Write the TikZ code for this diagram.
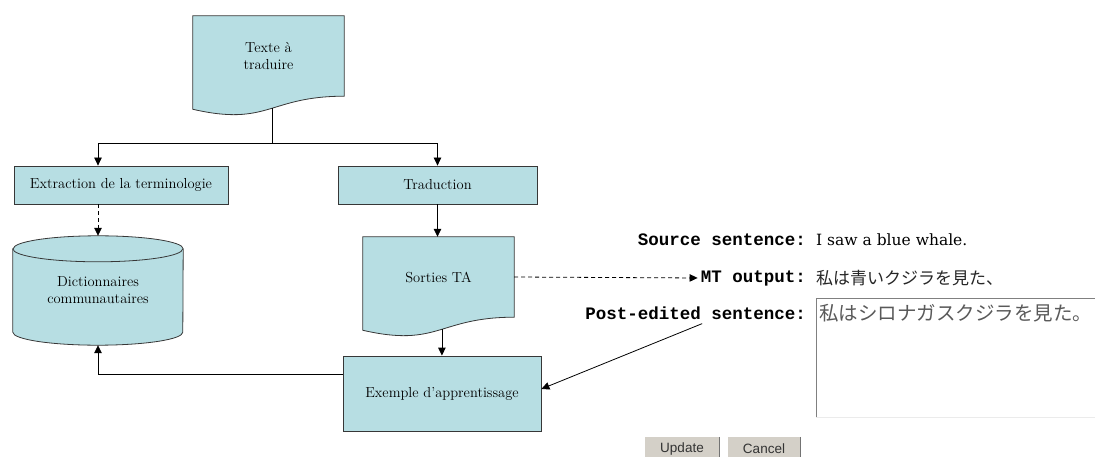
\documentclass[tikz,border=0pt]{standalone}
\usepackage{fontspec}
\newfontfamily\jpfont{Noto Sans CJK JP}
\newfontfamily\labelfont{Liberation Mono}
\newfontfamily\valuefont{DejaVu Serif}
\newfontfamily\buttonfont{Liberation Sans}
\usetikzlibrary{arrows.meta,calc,backgrounds}
\definecolor{flowfill}{RGB}{183,222,227}
\definecolor{edgegray}{RGB}{55,55,55}
\definecolor{btngray}{RGB}{212,208,200}
\newcommand{\flowfont}{\fontsize{14.5}{17}\selectfont}
% document shape: rectangle with a wavy bottom edge
\newcommand{\docoutline}[1]{%
  \draw[outline, fill=flowfill] (#1.north west) -- (#1.north east) -- (#1.south east)
    .. controls (#1.south) and ($(#1.north)!1.38!(#1.south)$) .. ($(#1.north west)!1.1625!(#1.south west)$)
    coordinate[pos=0.47] (#1-wave) -- cycle;}
% database shape: cylinder
\newcommand{\dboutline}[1]{%
  \draw[outline, fill=flowfill] ($(#1.north west)+(0,-13)$) -- ($(#1.south west)+(0,13)$)
    arc[start angle=180, end angle=360, x radius=85pt, y radius=13pt]
    -- ($(#1.north east)+(0,-13)$)
    arc[start angle=0, end angle=180, x radius=85pt, y radius=13pt] -- cycle;
  \draw[outline] ($(#1.north west)+(0,-13)$) arc[start angle=180, end angle=360, x radius=85pt, y radius=13pt];}
\tikzset{
  outline/.style={draw=edgegray, line width=0.8pt},
  flowbox/.style={outline, fill=flowfill, inner sep=0pt, font=\flowfont, align=center},
  doc/.style={inner sep=0pt, minimum width=151, minimum height=80, font=\flowfont, align=center},
  link/.style={line width=0.8pt, -{Triangle[length=8pt,width=7.5pt]}},
  dashlink/.style={link, dash pattern=on 4pt off 3pt},
  lbl/.style={anchor=east, inner sep=0pt, font=\labelfont\bfseries\fontsize{17.5}{20}\selectfont},
  val/.style={anchor=west, inner sep=0pt, font=\valuefont\fontsize{15.5}{20}\selectfont},
  jp/.style={anchor=west, inner sep=0pt, font=\jpfont\fontsize{17}{20}\selectfont, text=black!85},
  button/.style={fill=btngray, inner sep=0pt, minimum height=24, text=black!80,
    font=\buttonfont\fontsize{13.5}{15}\selectfont}
}
\begin{document}
\begin{tikzpicture}[x=1pt, y=1pt]
\useasboundingbox (0,0) rectangle (1095,-457);

\node[doc] (texte) at (268.5,-56) {\baselineskip=19pt Texte à\\traduire};
\node[flowbox, minimum width=214, minimum height=38] (extr) at (121,-185) {Extraction de la terminologie};
\node[flowbox, minimum width=199, minimum height=38] (trad) at (437.5,-185) {Traduction};
\node[inner sep=0pt, minimum width=170, minimum height=109, font=\flowfont, align=center] (dict) at (98,-290.5)
  {\baselineskip=15pt Dictionnaires\\communautaires};
\node[doc] (sorties) at (438.5,-277) {Sorties TA};
\node[flowbox, minimum width=198, minimum height=75] (exemple) at (442,-393.5) {Exemple d’apprentissage};

\begin{scope}[on background layer]
\docoutline{texte}
\docoutline{sorties}
\dboutline{dict}
\end{scope}

\node[lbl] (srclbl) at (806,-240) {Source sentence:};
\node[val] (srcval) at (816,-240) {I saw a blue whale.};
\node[lbl] (mtlbl) at (806,-278) {MT output:};
\node[jp] (mtval) at (816,-278) {私は青いクジラを見た、};
\node[lbl] (postlbl) at (806,-313) {Post-edited sentence:};
\node[anchor=north west, inner sep=0pt, minimum width=290, minimum height=119] (editbox) at (816,-298) {};
\draw[gray, line width=1pt] (editbox.south west) -- (editbox.north west) -- (editbox.north east);
\draw[black!8, line width=1pt] (editbox.south west) -- (editbox.south east);
\node[jp, text=black!65, font=\jpfont\fontsize{19.5}{22}\selectfont] (postval) at (819,-313) {私はシロナガスクジラを見た。};

\node[button, minimum width=74] (update) at (682,-449) {Update};
\node[button, minimum width=72] (cancel) at (764,-449) {Cancel};
\draw[black!55, line width=1pt] (update.north east) -- (update.south east);
\draw[black!55, line width=1pt] (cancel.north east) -- (cancel.south east);

\coordinate (split) at (272,-143);
\draw[line width=0.8pt] (texte-wave) -- (texte-wave |- split);
\draw[link] (texte-wave |- split) -| (dict |- extr.north);
\draw[link] (texte-wave |- split) -| (trad.north);
\draw[dashlink] (dict |- extr.south) -- (dict.north);
\draw[link] (trad.south) -- (trad.south |- sorties.north);
\draw[link] (sorties-wave) -- (sorties-wave |- exemple.north);
\draw[link] ($(exemple.north west)!0.25!(exemple.south west)$) -| (dict.south);
\draw[dashlink, shorten >=3pt] (sorties.east) -- (mtlbl.west);
\draw[link] ($(postlbl.south west)!0.53!(postlbl.south east)+(0,-4)$) -- ($(exemple.north east)!0.44!(exemple.south east)$);
\end{tikzpicture}
\end{document}
